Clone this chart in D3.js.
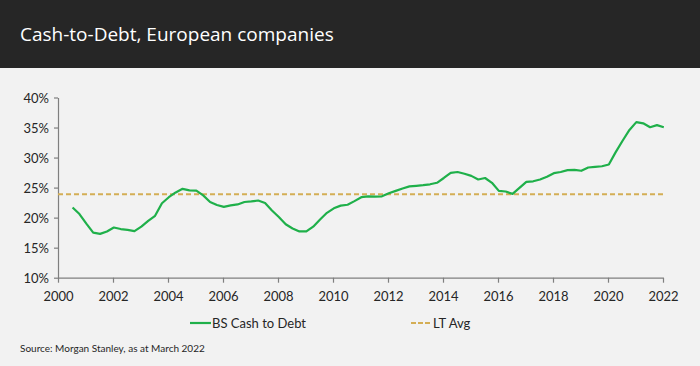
<!DOCTYPE html>
<html><head><meta charset="utf-8">
<script src="https://cdn.jsdelivr.net/npm/d3@7"></script>
<style>
html,body{margin:0;padding:0;background:#f2f2f2;}
svg{display:block;}
</style></head>
<body>
<script>
const title = "Cash-to-Debt, European companies";
const source = "Source: Morgan Stanley, as at March 2022";
const seriesNames = ["BS Cash to Debt", "LT Avg"];
const firstQuarter = 2000.5; // Q3 2000
const cashToDebt = [
21.7,20.6,19.0,17.5,17.3,17.7,18.35,18.1,17.95,17.75,
18.5,19.45,20.3,22.4,23.4,24.2,24.8,24.55,24.5,23.7,
22.6,22.1,21.8,22.05,22.2,22.6,22.7,22.85,22.45,21.2,
20.1,18.9,18.2,17.7,17.7,18.5,19.7,20.8,21.55,22.0,
22.15,22.75,23.4,23.55,23.5,23.55,24.05,24.45,24.85,25.2,
25.3,25.4,25.55,25.8,26.6,27.45,27.6,27.3,26.95,26.35,
26.6,25.8,24.45,24.35,23.95,24.95,25.95,26.05,26.35,26.8,
27.4,27.6,27.9,27.95,27.8,28.35,28.45,28.55,28.85,30.9,
32.8,34.6,35.9,35.7,35.05,35.4,35.05
];
const ltAvg = 23.9;
const xTicks = [2000,2002,2004,2006,2008,2010,2012,2014,2016,2018,2020,2022];
const yTicks = [10,15,20,25,30,35,40];

const W = 700, H = 366;
const svg = d3.select("body").append("svg").attr("width", W).attr("height", H);
svg.append("rect").attr("width", W).attr("height", H).attr("fill", "#f2f2f2");
svg.append("rect").attr("width", W).attr("height", 68).attr("fill", "#262626");
svg.append("text").attr("x", 20).attr("y", 41).text(title)
  .attr("fill", "#ffffff").attr("font-family", "'Open Sans', sans-serif").attr("font-size", 19);

const data = cashToDebt.map((v, i) => ({t: firstQuarter + i * 0.25 + 0.03, v}));

const x = d3.scaleLinear().domain([2000, 2022]).range([58, 663]);
const y = d3.scaleLinear().domain([10, 40]).range([277.7, 97.5]);

const font = "Lato, 'Liberation Sans', sans-serif";

const xAxis = svg.append("g").attr("transform", "translate(0,277.7)")
  .call(d3.axisBottom(x).tickValues(xTicks).tickFormat(d3.format("d")).tickSize(5).tickSizeOuter(0));
const yAxis = svg.append("g").attr("transform", "translate(58,0)")
  .call(d3.axisLeft(y).tickValues(yTicks).tickFormat(d => d + "%").tickSize(4).tickSizeOuter(0));
[xAxis, yAxis].forEach(g => {
  g.select(".domain").attr("stroke", "#7f7f7f").attr("stroke-width", 1.2);
  g.selectAll(".tick line").attr("stroke", "#7f7f7f").attr("stroke-width", 1.2);
  g.selectAll("text").attr("fill", "#262626").attr("font-family", font).attr("font-size", 13);
});
xAxis.selectAll("text").attr("dy", "0").attr("y", 23);
yAxis.selectAll("text").attr("x", -9).attr("dy", "0.35em");

svg.append("line").attr("x1", x(2000)).attr("x2", x(2022))
  .attr("y1", y(ltAvg)).attr("y2", y(ltAvg))
  .attr("stroke", "#d4ae55").attr("stroke-width", 2).attr("stroke-dasharray", "5,3");

svg.append("path").datum(data)
  .attr("d", d3.line().x(d => x(d.t)).y(d => y(d.v)))
  .attr("fill", "none").attr("stroke", "#1fb04a").attr("stroke-width", 2.2)
  .attr("stroke-linejoin", "round");

// legend
const lg = svg.append("g");
lg.append("line").attr("x1", 190).attr("x2", 211).attr("y1", 323).attr("y2", 323)
  .attr("stroke", "#1fb04a").attr("stroke-width", 2.2);
lg.append("text").attr("x", 212).attr("y", 327.5).text(seriesNames[0])
  .attr("font-family", font).attr("font-size", 13).attr("fill", "#262626");
lg.append("line").attr("x1", 411).attr("x2", 430).attr("y1", 323).attr("y2", 323)
  .attr("stroke", "#d4ae55").attr("stroke-width", 2).attr("stroke-dasharray", "5,2");
lg.append("text").attr("x", 433).attr("y", 327.5).text(seriesNames[1])
  .attr("font-family", font).attr("font-size", 13).attr("fill", "#262626");

svg.append("text").attr("x", 20).attr("y", 352).text(source)
  .attr("font-family", font).attr("font-size", 10).attr("fill", "#262626");
</script>
</body></html>
